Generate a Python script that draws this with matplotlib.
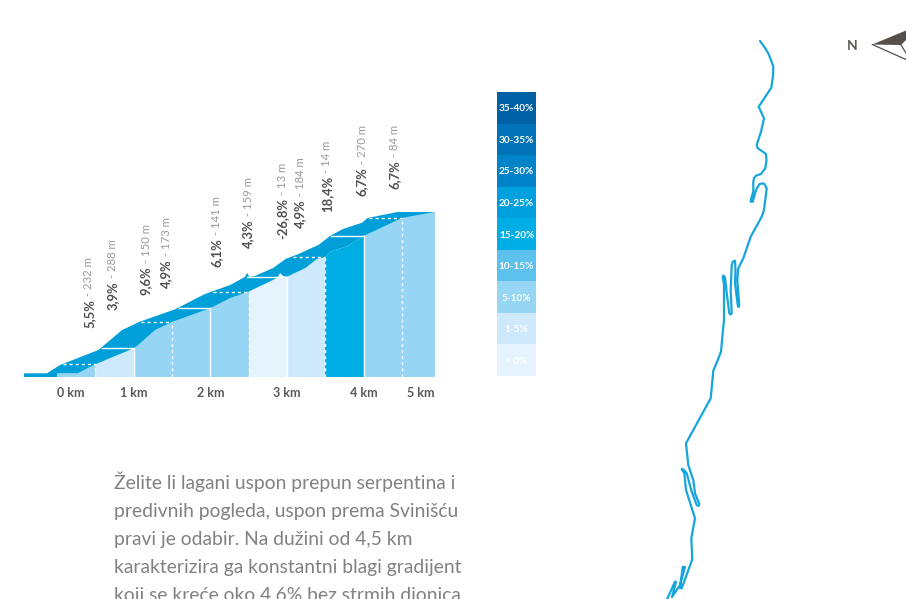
import numpy as np
import matplotlib
matplotlib.use("Agg")
import matplotlib.pyplot as plt
from matplotlib.patches import Polygon

plt.rcParams['font.family'] = ['Lato', 'DejaVu Sans']

W, H = 906, 599

# profile, km vs height above the start
top_km = [-0.43, -0.13, 0.04, 0.54, 0.85, 1.08, 1.54, 1.93, 2.26, 2.45, 2.48, 2.51, 2.58, 2.82, 2.98, 3.15, 3.33, 3.41, 3.56, 3.73, 3.98, 4.05, 4.44, 4.93]
top_h = [3.7, 3.7, 12, 27, 47, 55.3, 67.7, 83, 92, 100, 104, 100, 101, 109, 118, 123, 129.3, 132, 141, 148, 154.3, 159, 165, 165]
low_km = [-0.43, 0, 0, 0.27, 0.5, 1.02, 1.28, 1.51, 2.0, 2.26, 2.49, 2.87, 2.91, 2.95, 3, 3.24, 3.39, 3.51, 3.56, 3.79, 4.0, 4.39, 4.5, 4.93]
low_h = [0, 0, 3.7, 3.7, 12.7, 29.3, 47, 55.3, 68.7, 79, 85, 99, 104, 101, 100.3, 109, 118, 120.3, 125.3, 131, 141, 155, 159, 165]

# segments coloured by gradient class
seg_start = [0, 0.5, 1, 1.5, 2, 2.5, 3, 3.5, 4, 4.5]
seg_end = [0.5, 1, 1.5, 2, 2.5, 3, 3.5, 4, 4.5, 4.93]
seg_class = ['5-10%', '1-5%', '5-10%', '5-10%', '5-10%', '< 0%', '1-5%', '15-20%', '5-10%', '5-10%']

# legend
classes = ['35-40%', '30-35%', '25-30%', '20-25%', '15-20%', '10-15%', '5-10%', '1-5%', '< 0%']
class_colors = ['#0060a6', '#0072b8', '#0083c9', '#009fdd', '#00aee6', '#5cc1ed', '#97d5f5', '#cde9fb', '#e5f4fc']

# labels above the profile
grades = ['5,5%', '3,9%', '9,6%', '4,9%', '6,1%', '4,3%', '-26,8%', '4,9%', '18,4%', '6,7%', '6,7%']
lengths = ['232 m', '288 m', '150 m', '173 m', '141 m', '159 m', '13 m', '184 m', '14 m', '270 m', '84 m']
label_x = [89, 113, 146, 166, 217, 248, 282, 300, 327, 362, 395]
label_y = [328, 310, 295, 288, 267, 248, 239, 228, 212, 196, 189]

tick_km = [0.18, 1, 2, 3, 4, 4.75]
tick_labels = ['0 km', '1 km', '2 km', '3 km', '4 km', '5 km']

# route on the map
route_x = [760, 764, 768.3, 771, 773.3, 773, 771.3, 758.7, 764, 761, 756.7, 757.5, 766, 766.5, 765.3, 761, 756, 754, 753.3, 753.3, 751, 750.7, 752.7, 754, 756, 759.3, 762, 764.5, 766.7, 764, 761.7, 750.7, 743.3, 738.3, 737.3, 739.3, 738.5, 737.7, 735, 735.5, 735, 733, 731.7, 730.7, 731.7, 730.5, 729.3, 726.7, 725, 723.5, 722.7, 724, 724, 722.7, 721, 717, 713.3, 710.7, 686, 688.3, 693.3, 695, 699.3, 698.5, 696.7, 691.7, 686.7, 684, 681.7, 684.3, 686, 695, 691.3, 692.3, 681.7, 680, 682.7, 685, 680, 672, 676, 675, 666.7]
route_y = [41, 46.5, 53.3, 60, 66.7, 76, 87.7, 106.7, 118.3, 131.7, 145, 148, 154, 160, 168.3, 174, 175.7, 178, 181.7, 191.7, 199, 201.7, 201.7, 197, 190, 184.3, 183.3, 184, 188.3, 210, 216.7, 236.7, 258.3, 268.3, 280, 305.7, 307, 305, 283.3, 270, 260.7, 261.5, 265, 290, 313.3, 314.5, 313.3, 293, 277.3, 275.5, 276.7, 285, 320, 333, 351.7, 362, 370.7, 398.3, 443.3, 465, 480, 493.3, 504, 506, 505, 491.7, 473.3, 470, 469, 473.3, 490, 518.3, 538.3, 559.3, 588.3, 588, 567, 567, 585, 597, 582, 581.7, 600]

body = ['Želite li lagani uspon prepun serpentina i',
        'predivnih pogleda, uspon prema Svinišću',
        'pravi je odabir. Na dužini od 4,5 km',
        'karakterizira ga konstantni blagi gradijent',
        'koji se kreće oko 4,6% bez strmih dionica']

fig = plt.figure(figsize=(W / 100, H / 100), dpi=100)

# overlay in pixels, for the map and the free text
over = fig.add_axes([0, 0, 1, 1])
over.set_xlim(0, W)
over.set_ylim(H, 0)
over.axis('off')

over.plot(route_x, route_y, color='#17a6dc', lw=1.6, solid_joinstyle='round', solid_capstyle='round')

over.add_patch(Polygon([(872.3, 44.5), (906, 30.5), (906, 40), (901, 45)], closed=True, fc='#544f4b', ec='none'))
over.plot([872.3, 906], [44.5, 59.5], color='#544f4b', lw=0.9)
over.plot([901, 906], [45, 53], color='#544f4b', lw=0.9)
over.text(852, 45.5, 'N', color='#5e5a57', fontsize=10, fontweight='bold', ha='center', va='center')

for i, line in enumerate(body):
    over.text(114, 489 + i * 28, line, color='#808184', fontsize=13.85, ha='left', va='baseline')

for x, y, g, l in zip(label_x, label_y, grades, lengths):
    t = over.text(x, y, g, color='#4f4f4f', fontsize=9.4, fontweight='bold', rotation=90, ha='center', va='bottom')
    over.annotate(' - ' + l, xy=(0.5, 1), xycoords=t, color='#9a9a9a', fontsize=8.2, rotation=90,
                  ha='center', va='bottom')

# profile axes, 1 height unit is one pixel
ax = fig.add_axes([24 / W, 1 - 377 / H, (435 - 24) / W, 177 / H])
ax.set_xlim(-0.43, 4.93)
ax.set_ylim(0, 177)
ax.patch.set_alpha(0)
for s in ax.spines.values():
    s.set_visible(False)
ax.set_yticks([])
ax.set_xticks(tick_km, tick_labels)
ax.tick_params(axis='x', length=0, pad=7, labelsize=9, labelcolor='#58595b')
for lab in ax.get_xticklabels():
    lab.set_fontweight('bold')

under = Polygon(list(zip(low_km, low_h)) + [(4.93, 0)], closed=True, transform=ax.transData)
color_of = dict(zip(classes, class_colors))
for a, b, c in zip(seg_start, seg_end, seg_class):
    bar = ax.bar(a, 177, width=b - a, align='edge', color=color_of[c], lw=0)[0]
    bar.set_clip_path(under)

band = Polygon(list(zip(top_km, top_h)) + list(zip(low_km, low_h))[::-1], closed=True, fc='#009fd9', ec='none')
ax.add_patch(band)

# separators: solid on whole km, dashed on half km
top_mono = np.maximum.accumulate(top_h)
for k, b in enumerate(seg_end[:-1]):
    level = np.interp(b, low_km[3:], low_h[3:])
    start = np.interp(level, top_mono, top_km) + 0.02
    style = (0, (2.2, 2.2)) if k % 2 == 0 else '-'
    ax.plot([b, b], [0, level], color='white', lw=1, ls=style)
    ax.plot([start, b], [level, level], color='white', lw=1, ls=style)

# legend column
leg = fig.add_axes([497 / W, 1 - 376 / H, 39 / W, 284 / H])
leg.barh(range(len(classes)), [1] * len(classes), height=1, color=class_colors, lw=0)
leg.set_xlim(0, 1)
leg.set_ylim(len(classes) - 0.5, -0.5)
leg.axis('off')
for i, c in enumerate(classes):
    leg.text(0.5, i, c, color='white', fontsize=7.2, fontweight='bold', ha='center', va='center_baseline')

fig.savefig('out.png', dpi=100)
